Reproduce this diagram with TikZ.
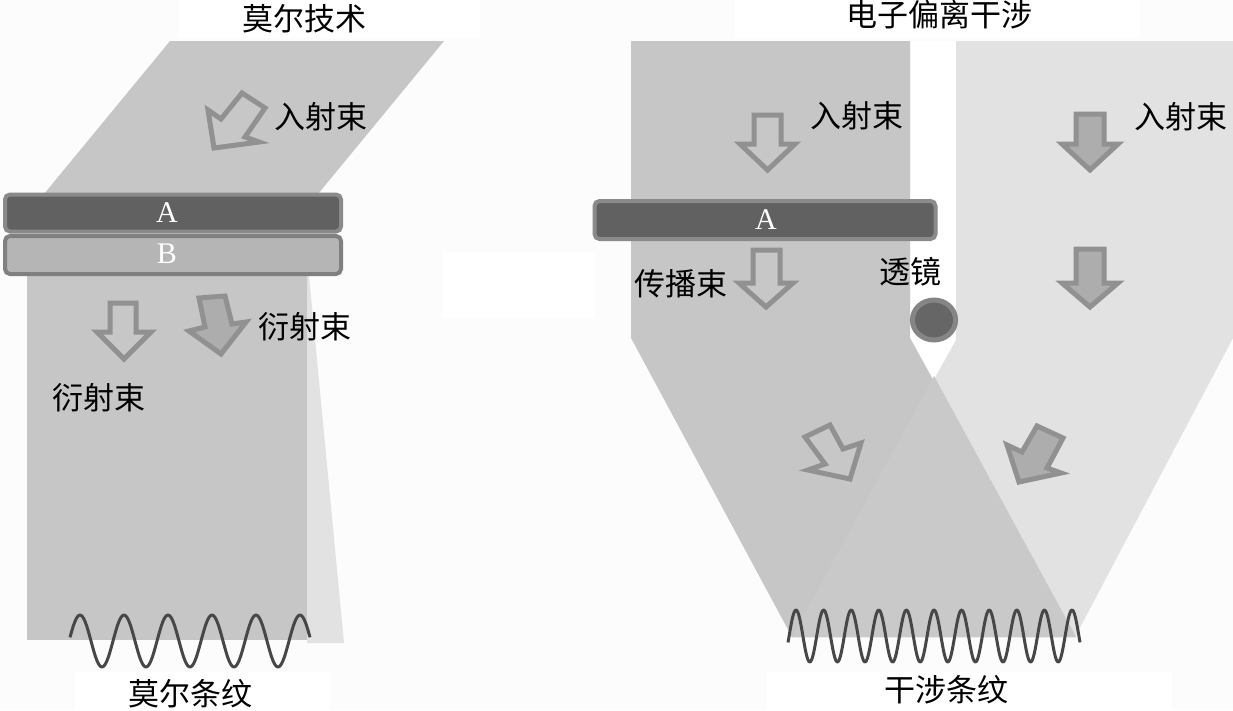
\documentclass[tikz,border=0pt]{standalone}
\usepackage{fontspec}
\setmainfont{Liberation Serif}
\newfontfamily\cjk{Noto Sans CJK SC}
\definecolor{bgc}{HTML}{FCFCFC}
\definecolor{beam}{HTML}{C6C6C6}
\definecolor{beamlight}{HTML}{E2E2E2}
\definecolor{overlapc}{HTML}{C9C9C9}
\tikzset{
  patch/.style={fill=white,draw=none},
  beamdark/.style={fill=beam,draw=none},
  beamlite/.style={fill=beamlight,draw=none},
  hollowarrow/.style={draw=black!43,line width=5pt,line join=miter,fill=black!22},
  solidarrow/.style={draw=black!43,line width=5pt,line join=miter,fill=black!32},
  lab/.style={font=\cjk\fontsize{31}{31}\selectfont,text=black,inner sep=0pt},
  plateA/.style={rectangle,rounded corners=5pt,draw=black!46,line width=4pt,fill=black!62,text=white,inner sep=0pt,font=\fontsize{30}{30}\selectfont},
  plateB/.style={rectangle,rounded corners=5pt,draw=black!50,line width=4pt,fill=black!29,text=white,inner sep=0pt,font=\fontsize{30}{30}\selectfont},
  wave/.style={draw=black!72,line width=3pt,line join=round}
}
\begin{document}
\begin{tikzpicture}[x=1pt,y=-1pt]
\useasboundingbox (0,0) rectangle (1233,710);
\fill[bgc] (0,0) rectangle (1233,710);
% white patches of the background
\fill[patch] (178,0) rectangle (480,38);
\fill[patch] (735,0) rectangle (1140,38);
\fill[patch] (767,672) rectangle (1172,710);
\fill[patch] (75,672) rectangle (330,710);
\fill[patch] (442,252) rectangle (595,318);
\fill[patch] (910,41) rectangle (956,385);

% left experiment: beams
\fill[beamdark] (170,41) -- (444,41) -- (318,194) -- (44,194) -- cycle;
\fill[beamlite] (307,276) -- (309,276) -- (344,643) -- (307,643) -- cycle;
\fill[beamdark] (27,274) rectangle (307,640);

% right experiment: beams
\fill[beamlite] (956,41) -- (1233,41) -- (1233,338) -- (1075,637) -- (790,637) -- (956,340) -- cycle;
\fill[beamdark] (631,41) -- (910,41) -- (910,338) -- (1076,637) -- (792,637) -- (631,338) -- cycle;
\fill[overlapc] (934,376) -- (1076,637) -- (792,637) -- cycle;

% plates
\node[plateA,minimum width=336pt,minimum height=37pt] (pa) at (173,213) {};
\node[plateB,minimum width=336pt,minimum height=38pt] (pb) at (173,255) {};
\node[plateA,minimum width=341pt,minimum height=38pt] (pc) at (765,220) {};
\node[text=white,inner sep=0pt,font=\fontsize{30}{30}\selectfont] (la) at (167,213) {A};
\node[text=white,inner sep=0pt,font=\fontsize{30}{30}\selectfont] (lb) at (167,254) {B};
\node[text=white,inner sep=0pt,font=\fontsize{30}{30}\selectfont] (lc) at (766,220) {A};

% lens
\node[circle,draw=black!48,fill=black!60,line width=5pt,minimum size=40pt,inner sep=0pt,xscale=1.08] (lens) at (934,320) {};

% arrows, left
\draw[hollowarrow] (242,93) -- (265,108) -- (245,137) -- (259,142) -- (214,148) -- (208,110) -- (221,119) -- cycle;
\draw[hollowarrow] (110,303) -- (136,303) -- (136,332) -- (151,332) -- (124,359) -- (97,332) -- (110,332) -- cycle;
\draw[solidarrow] (199,298) -- (225,296) -- (232,324) -- (246,322) -- (221,354) -- (189,331) -- (205,327) -- cycle;

% arrows, right
\draw[hollowarrow] (754,115) -- (781,115) -- (781,144) -- (795,144) -- (767.5,170) -- (740,144) -- (754,144) -- cycle;
\draw[solidarrow] (1076,114) -- (1104,114) -- (1104,144) -- (1118,144) -- (1090,170) -- (1062,144) -- (1076,144) -- cycle;
\draw[hollowarrow] (753,250) -- (780,250) -- (780,283) -- (793,283) -- (766,307) -- (739,283) -- (753,283) -- cycle;
\draw[solidarrow] (1076,249) -- (1104,249) -- (1104,283) -- (1118,283) -- (1090,307) -- (1062,283) -- (1076,283) -- cycle;
\draw[hollowarrow] (805,437) -- (830,425) -- (843,449) -- (861,443) -- (850,479) -- (808,470) -- (825,464) -- cycle;
\draw[solidarrow] (1037,426) -- (1063,438) -- (1047,468) -- (1061,473) -- (1019,482) -- (1007,445) -- (1022,452) -- cycle;

% fringes
\draw[wave] plot[domain=70:310,samples=160,smooth] (\x,{641-26*cos(8.1818*(\x-80))});
\draw[wave] plot[domain=788:1080,samples=300,smooth] (\x,{636-26*cos(13.043*(\x-796))});

% labels
\node[lab] (t1) at (304,19) {莫尔技术};
\node[lab] (t2) at (939,15) {电子偏离干涉};
\node[lab] (l1) at (321,117) {入射束};
\node[lab] (l2) at (857,116) {入射束};
\node[lab] (l3) at (1181,117) {入射束};
\node[lab] (l4) at (305,327) {衍射束};
\node[lab] (l5) at (99,398) {衍射束};
\node[lab] (l6) at (681,284) {传播束};
\node[lab] (l7) at (910,272) {透镜};
\node[lab] (t3) at (190,694) {莫尔条纹};
\node[lab] (t4) at (946,690) {干涉条纹};
\end{tikzpicture}
\end{document}
